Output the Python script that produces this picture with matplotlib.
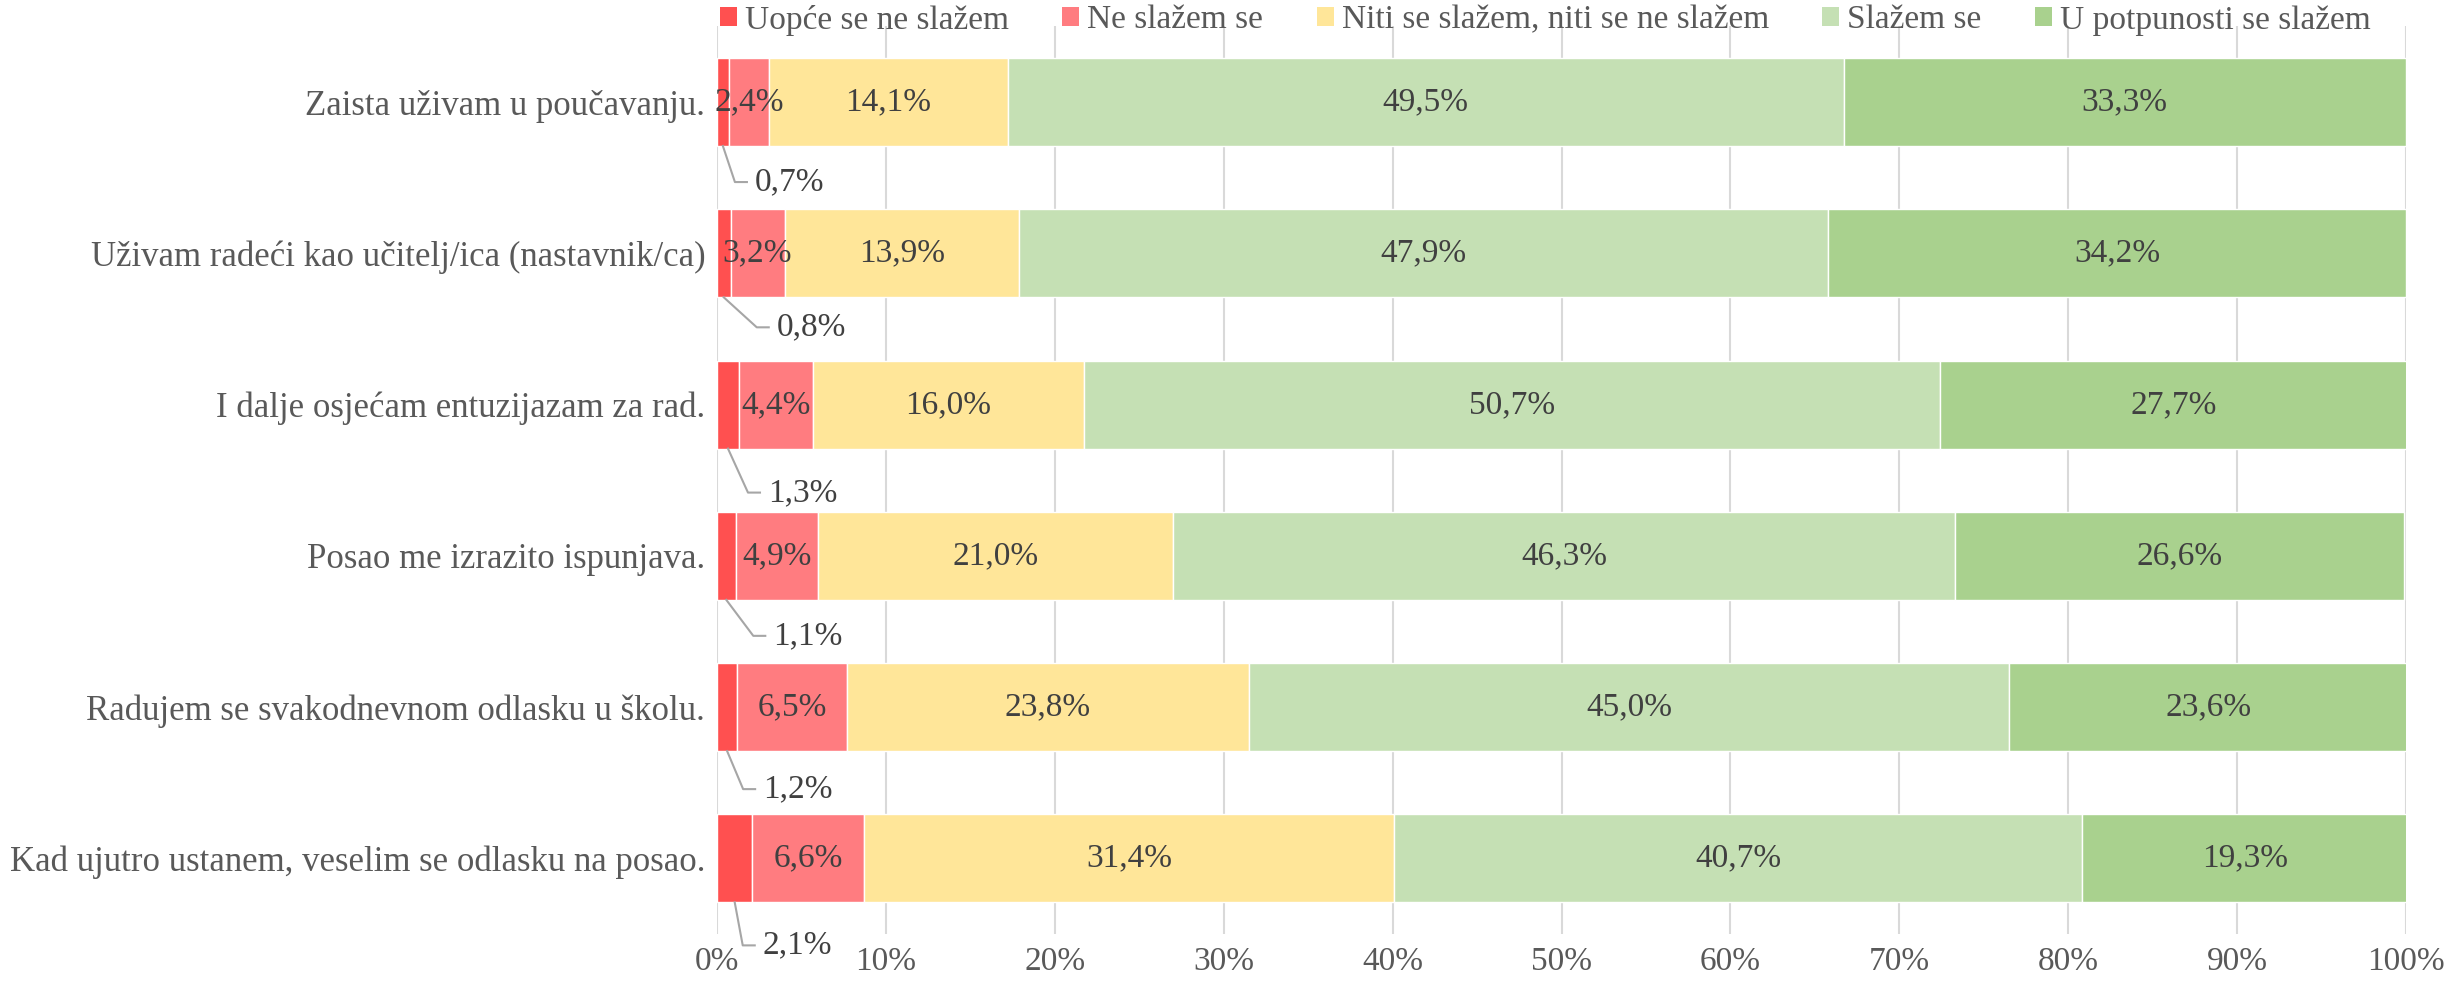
import matplotlib
matplotlib.use("Agg")
import matplotlib.pyplot as plt
from matplotlib.patches import Patch

# ---- data ----
categories = [
    "Zaista uživam u poučavanju.",
    "Uživam radeći kao učitelj/ica (nastavnik/ca)",
    "I dalje osjećam entuzijazam za rad.",
    "Posao me izrazito ispunjava.",
    "Radujem se svakodnevnom odlasku u školu.",
    "Kad ujutro ustanem, veselim se odlasku na posao.",
]
series_names = [
    "Uopće se ne slažem",
    "Ne slažem se",
    "Niti se slažem, niti se ne slažem",
    "Slažem se",
    "U potpunosti se slažem",
]
uopce = [0.7, 0.8, 1.3, 1.1, 1.2, 2.1]
ne_slazem = [2.4, 3.2, 4.4, 4.9, 6.5, 6.6]
niti = [14.1, 13.9, 16.0, 21.0, 23.8, 31.4]
slazem = [49.5, 47.9, 50.7, 46.3, 45.0, 40.7]
potpuno = [33.3, 34.2, 27.7, 26.6, 23.6, 19.3]
xticks = [0, 10, 20, 30, 40, 50, 60, 70, 80, 90, 100]

# ---- style ----
colors = ["#FF5050", "#FF7C80", "#FFE699", "#C5E0B4", "#A9D18E"]
# leader-label offsets (pixels) for first-segment labels: right of segment centre, below bar bottom
lead_dx = [32, 53, 40, 47, 36, 28]
lead_dy = [36, 30, 44, 36, 38, 43]

FONT = "Liberation Serif"
FS = 24
FS_CAT = 25
plt.rcParams["font.family"] = [FONT, "DejaVu Serif"]

W, H = 2463, 990
fig = plt.figure(figsize=(W / 100, H / 100), dpi=100)
ax_l, ax_r, ax_t, ax_b = 717, 2406, 26.4, 934
ax = fig.add_axes([ax_l / W, 1 - ax_b / H, (ax_r - ax_l) / W, (ax_b - ax_t) / H])

series = [uopce, ne_slazem, niti, slazem, potpuno]
ypos = list(range(len(categories)))
bar_h = 0.582
left = [0.0] * len(categories)
for vals, col, name in zip(series, colors, series_names):
    ax.barh(ypos, vals, left=left, height=bar_h, color=col, edgecolor="white",
            linewidth=1.0, label=name, zorder=3)
    left = [l + v for l, v in zip(left, vals)]

ax.set_xlim(0, 100)
ax.set_ylim(len(categories) - 0.5, -0.5)
ax.set_xticks(xticks)
ax.set_xticklabels([f"{t}%" for t in xticks])
ax.set_yticks(ypos)
ax.set_yticklabels(categories)
ax.grid(axis="x", color="#D9D9D9", linewidth=1.5, zorder=0)
for s in ax.spines.values():
    s.set_visible(False)
ax.tick_params(axis="both", length=0, labelcolor="#595959")
ax.tick_params(axis="x", labelsize=FS, pad=9)
ax.tick_params(axis="y", labelsize=FS_CAT, pad=8.5)

fmt = lambda v: f"{v:.1f}".replace(".", ",") + "%"

# in-bar labels for series 2..5
for si in range(1, 5):
    for i in ypos:
        start = sum(series[k][i] for k in range(si))
        v = series[si][i]
        ax.text(start + v / 2, i, fmt(v), ha="center", va="center",
                fontsize=FS, color="#404040", zorder=5)

# leader labels for the first series
fig.canvas.draw()
inv = ax.transData.inverted()
for i in ypos:
    v = uopce[i]
    p0 = ax.transData.transform((v / 2, i + bar_h / 2))
    lx = p0[0] + lead_dx[i]
    ly = p0[1] - lead_dy[i]
    pts = [(p0[0], p0[1]), (lx - 20, ly), (lx - 8, ly)]
    dpts = inv.transform(pts)
    ax.plot(dpts[:, 0], dpts[:, 1], color="#A6A6A6", linewidth=1.5, zorder=4,
            clip_on=False)
    tx, ty = inv.transform((lx, ly))
    ax.text(tx, ty, fmt(v), ha="left", va="center", fontsize=FS,
            color="#404040", zorder=5)

handles = [Patch(facecolor=c, edgecolor="none") for c in colors]
fig.legend(handles, series_names, loc="center left",
           bbox_to_anchor=(720 / W, 1 - 20 / H), ncol=5, frameon=False,
           fontsize=FS, handlelength=0.51, handleheight=0.51,
           handletextpad=0.24, columnspacing=1.6, borderpad=0, borderaxespad=0,
           labelcolor="#595959")

fig.savefig("out.png", dpi=100)
